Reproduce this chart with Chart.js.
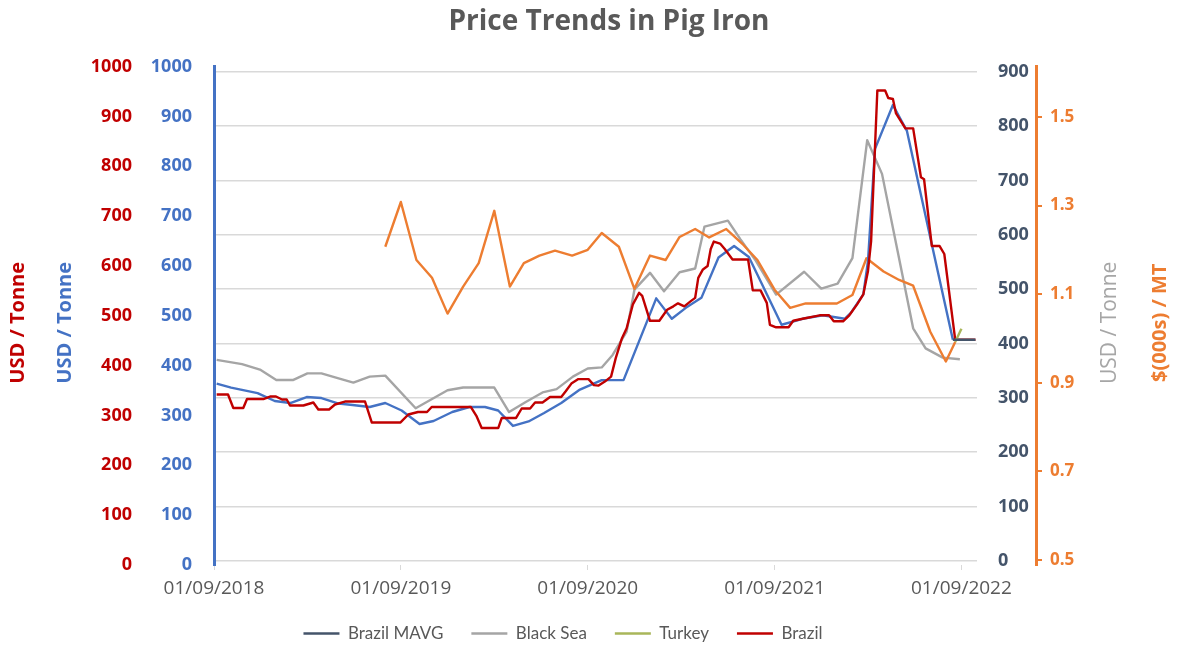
<!DOCTYPE html>
<html>
<head>
<meta charset="utf-8">
<script src="https://cdn.jsdelivr.net/npm/chart.js@4.4.0/dist/chart.umd.min.js"></script>
<style>
  html, body { margin: 0; padding: 0; background: #fff; }
  #wrap { width: 1181px; height: 651px; }
</style>
</head>
<body>
<div id="wrap"><canvas id="pigIron"></canvas></div>
<script>
// x positions are months counted from 01/09/2018
const yearTicks = [0, 12, 24, 36, 48];
const yearLabels = ['01/09/2018', '01/09/2019', '01/09/2020', '01/09/2021', '01/09/2022'];
const usdTicks = [0, 100, 200, 300, 400, 500, 600, 700, 800, 900, 1000];
const blackSeaTicks = [0, 100, 200, 300, 400, 500, 600, 700, 800, 900];
const turkeyTicks = [0.5, 0.7, 0.9, 1.1, 1.3, 1.5];

// Brazil (red, USD / Tonne)
const brazilMonths = [0.17, 0.9, 1.24, 1.88, 2.12, 3.17, 3.6, 3.98, 4.37, 4.67, 4.88, 5.74, 6.38, 6.7, 7.39, 7.77, 8.41, 9.7, 10.13, 11.98,
  12.48, 13.1, 13.68, 13.98, 16.5, 16.87, 17.19, 18.26, 18.48, 19.4, 19.76, 20.3, 20.62, 21.1, 21.58, 22.3, 22.6, 22.95, 23.4, 24.05,
  24.4, 24.7, 25.1, 25.5, 25.8, 26.2, 26.5, 26.9, 27.3, 27.5, 28.0, 28.6, 29.1, 29.5, 29.8, 30.2, 30.6, 30.9, 31.1, 31.4,
  31.7, 31.9, 32.1, 32.5, 32.8, 33.3, 34.3, 34.6, 35.1, 35.5, 35.7, 36.1, 36.9, 37.2, 37.8, 38.9, 39.5, 39.8, 40.4, 40.8,
  41.3, 41.7, 42.0, 42.2, 42.6, 43.1, 43.3, 43.6, 43.8, 44.4, 44.9, 45.4, 45.6, 46.1, 46.6, 46.9, 47.6, 48.9];
const brazilValues = [342, 342, 315, 315, 333, 333, 338, 338, 332, 332, 320, 320, 326, 312, 312, 322, 328, 328, 286, 286,
  302, 307, 307, 317, 317, 298, 275, 275, 295, 295, 314, 314, 326, 326, 337, 337, 349, 364, 373, 373,
  361, 360, 368, 378, 415, 455, 475, 523, 546, 540, 490, 490, 512, 519, 525, 519, 529, 536, 576, 593,
  600, 634, 649, 645, 634, 613, 613, 551, 551, 526, 482, 477, 477, 490, 494, 501, 501, 489, 489, 501,
  523, 543, 590, 650, 952, 952, 937, 935, 906, 876, 876, 778, 774, 640, 640, 624, 452, 452];

// blue moving average line (USD / Tonne)
const mavgMonths = [0.17, 1.1, 2.8, 3.9, 4.9, 5.95, 6.9, 8.0, 8.9, 10.0, 11.0, 12.05, 13.2, 14.1, 15.3, 16.4, 17.4, 18.25, 19.2, 20.2,
  21.2, 22.3, 23.5, 24.9, 26.3, 28.4, 29.4, 30.3, 31.3, 32.4, 33.4, 34.35, 36.45, 37.8, 39.1, 40.5, 40.9, 41.7, 42.0, 42.45,
  43.6, 44.5, 46.0, 47.45];
const mavgValues = [364, 356, 345, 329, 325, 337, 335, 324, 321, 317, 325, 310, 283, 289, 307, 317, 317, 310, 279, 288,
  305, 325, 352, 371, 371, 535, 494, 516, 536, 617, 640, 618, 482, 494, 501, 494, 506, 543, 610, 835,
  923, 871, 657, 452];
// dark Brazil MAVG tail
const mavgTailMonths = [47.45, 48.9];
const mavgTailValues = [452, 452];

// Black Sea (grey, right USD / Tonne)
const blackSeaMonths = [0.17, 1.8, 2.95, 4.0, 5.1, 6.0, 6.9, 8.0, 8.95, 10.0, 11.0, 12.95, 15.0, 16.0, 18.0, 18.95, 20.05, 21.1, 22.0, 23.05,
  24.0, 24.9, 25.6, 26.5, 27.0, 28.0, 28.9, 29.9, 30.9, 31.5, 33.0, 33.8, 34.8, 36.1, 37.9, 39.0, 40.05, 41.0, 41.95, 42.9,
  43.9, 44.9, 45.7, 46.8, 47.9];
const blackSeaValues = [370, 362, 352, 333, 333, 345, 345, 336, 328, 339, 341, 281, 314, 319, 319, 274, 293, 310, 316, 339,
  354, 356, 379, 422, 499, 530, 496, 531, 538, 615, 626, 592, 552, 490, 532, 501, 510, 557, 774, 712,
  570, 428, 391, 374, 371];

// orange line ($(000s) / MT)
const turkeyMonths = [11, 12, 13, 14, 15, 16, 17, 18, 19, 19.9, 20.9, 21.9, 23, 24, 24.9, 26, 27, 28, 29, 29.9,
  30.9, 31.8, 32.9, 34, 34.9, 36, 37, 38, 39, 40, 41, 41.9, 43, 44, 44.9, 46, 47, 47.6];
const turkeyValues = [1.207, 1.308, 1.177, 1.137, 1.056, 1.117, 1.170, 1.288, 1.117, 1.170, 1.187, 1.198, 1.187, 1.200, 1.238, 1.207, 1.112, 1.187, 1.177, 1.229,
  1.247, 1.228, 1.247, 1.211, 1.177, 1.110, 1.069, 1.079, 1.079, 1.079, 1.098, 1.181, 1.151, 1.132, 1.119, 1.015, 0.948, 0.992];
// olive Turkey tail
const turkeyTailMonths = [47.6, 48.0];
const turkeyTailValues = [0.992, 1.022];

const pts = (xs, ys) => xs.map((x, i) => ({ x: x, y: ys[i] }));

Chart.defaults.font.family = "'Open Sans', sans-serif";

// axis titles drawn by hand so they read bottom-to-top on both sides
const sideTitles = [
  { text: 'USD / Tonne', color: '#C00000', font: "bold 20px 'Open Sans'", x: 18 },
  { text: 'USD / Tonne', color: '#4472C4', font: "bold 20px 'Open Sans'", x: 65 },
  { text: 'USD / Tonne', color: '#A6A6A6', font: "21px 'Open Sans'", x: 1110 },
  { text: '$(000s) / MT', color: '#ED7D31', font: "bold 20px 'Open Sans'", x: 1160 }
];

const sideTitlePlugin = {
  id: 'sideTitles',
  afterLayout(chart) {
    // nudge title and legend off-centre like the original
    if (chart.titleBlock) { chart.titleBlock.left += 21; chart.titleBlock.right += 21; }
    if (chart.legend) { chart.legend.left -= 25; chart.legend.right -= 25; }
  },
  afterDraw(chart) {
    const ctx = chart.ctx;
    const midY = (chart.chartArea.top + chart.chartArea.bottom) / 2 + 7;
    sideTitles.forEach(t => {
      ctx.save();
      ctx.translate(t.x, midY);
      ctx.rotate(-Math.PI / 2);
      ctx.font = t.font;
      ctx.fillStyle = t.color;
      ctx.textAlign = 'center';
      ctx.textBaseline = 'middle';
      ctx.fillText(t.text, 0, 0);
      ctx.restore();
    });
  }
};

const fixedTicks = list => scale => { scale.ticks = list.map(v => ({ value: v })); };

function series(label, xs, ys, color, axis, order, inLegend) {
  return {
    label: label,
    inLegend: inLegend,
    data: pts(xs, ys),
    borderColor: color,
    pointBorderColor: color,
    pointBorderWidth: 2.4,
    yAxisID: axis,
    order: order
  };
}

const ctx = document.getElementById('pigIron').getContext('2d');
const pigIronChart = new Chart(ctx, {
  type: 'line',
  data: {
    datasets: [
      series('Brazil MAVG', mavgTailMonths, mavgTailValues, '#44546A', 'yBlue', 0, true),
      series('Black Sea', blackSeaMonths, blackSeaValues, '#A5A5A5', 'yGray', 5, true),
      series('Turkey', turkeyTailMonths, turkeyTailValues, '#A9B65A', 'yOrange', 1, true),
      series('Brazil', brazilMonths, brazilValues, '#C00000', 'yRed', 2, true),
      series('MAVG blue', mavgMonths, mavgValues, '#4472C4', 'yBlue', 3, false),
      series('Turkey orange', turkeyMonths, turkeyValues, '#ED7D31', 'yOrange', 4, false)
    ]
  },
  options: {
    responsive: true,
    maintainAspectRatio: false,
    animation: false,
    layout: { padding: { left: 80, right: 85, top: 0, bottom: -1 } },
    elements: {
      line: { borderWidth: 2.4, tension: 0, borderJoinStyle: 'round', fill: false },
      point: { radius: 0, hoverRadius: 0 }
    },
    scales: {
      x: {
        type: 'linear',
        min: 0,
        max: 49,
        afterBuildTicks: fixedTicks(yearTicks),
        afterFit: s => { s.height = 32; },
        border: { display: false },
        grid: { drawOnChartArea: false, drawTicks: true, tickLength: 5, color: '#D9D9D9' },
        ticks: {
          autoSkip: false,
          maxRotation: 0,
          padding: 7,
          color: '#595959',
          font: { size: 19 },
          callback: v => yearLabels[yearTicks.indexOf(v)]
        }
      },
      yRed: {
        position: 'left',
        weight: 1,
        min: 0,
        max: 1000,
        afterBuildTicks: fixedTicks(usdTicks),
        afterFit: s => { s.width = 62; },
        border: { display: false },
        grid: { display: false, drawTicks: false },
        ticks: { padding: 10, color: '#C00000', font: { size: 18, weight: 'bold' }, callback: v => String(v) }
      },
      yBlue: {
        position: 'left',
        weight: 0,
        min: 0,
        max: 1000,
        afterBuildTicks: fixedTicks(usdTicks),
        afterFit: s => { s.width = 72; },
        border: { display: true, color: '#4472C4', width: 3 },
        grid: { display: false, drawTicks: false },
        ticks: { padding: 22, color: '#4472C4', font: { size: 18, weight: 'bold' }, callback: v => String(v) }
      },
      yGray: {
        position: 'right',
        weight: 0,
        min: -7.4,
        max: 909.3,
        afterBuildTicks: fixedTicks(blackSeaTicks),
        afterFit: s => { s.width = 59; },
        border: { display: false },
        grid: { color: '#D9D9D9', lineWidth: 1.5, drawTicks: false },
        ticks: { padding: 21, color: '#44546A', font: { size: 18, weight: 'bold' }, callback: v => String(v) }
      },
      yOrange: {
        position: 'right',
        weight: 1,
        min: 0.4886,
        max: 1.6136,
        afterBuildTicks: fixedTicks(turkeyTicks),
        afterFit: s => { s.width = 60; },
        border: { display: true, color: '#ED7D31', width: 3 },
        grid: { drawOnChartArea: false, drawTicks: true, tickLength: 6, color: '#ED7D31', lineWidth: 2 },
        ticks: { padding: 8, color: '#ED7D31', font: { size: 17, weight: 'bold' }, callback: v => v.toFixed(1) }
      }
    },
    plugins: {
      title: {
        display: true,
        text: 'Price Trends in Pig Iron',
        color: '#595959',
        font: { size: 28, weight: 'bold' },
        padding: { top: 5, bottom: 28 }
      },
      legend: {
        position: 'bottom',
        labels: {
          usePointStyle: true,
          pointStyle: 'line',
          pointStyleWidth: 36,
          boxWidth: 36,
          padding: 28,
          color: '#595959',
          font: { family: 'Lato', size: 17 },
          filter: (item, data) => data.datasets[item.datasetIndex].inLegend !== false,
          sort: (a, b) => a.datasetIndex - b.datasetIndex
        }
      },
      tooltip: { enabled: false }
    }
  },
  plugins: [sideTitlePlugin]
});
</script>
</body>
</html>
